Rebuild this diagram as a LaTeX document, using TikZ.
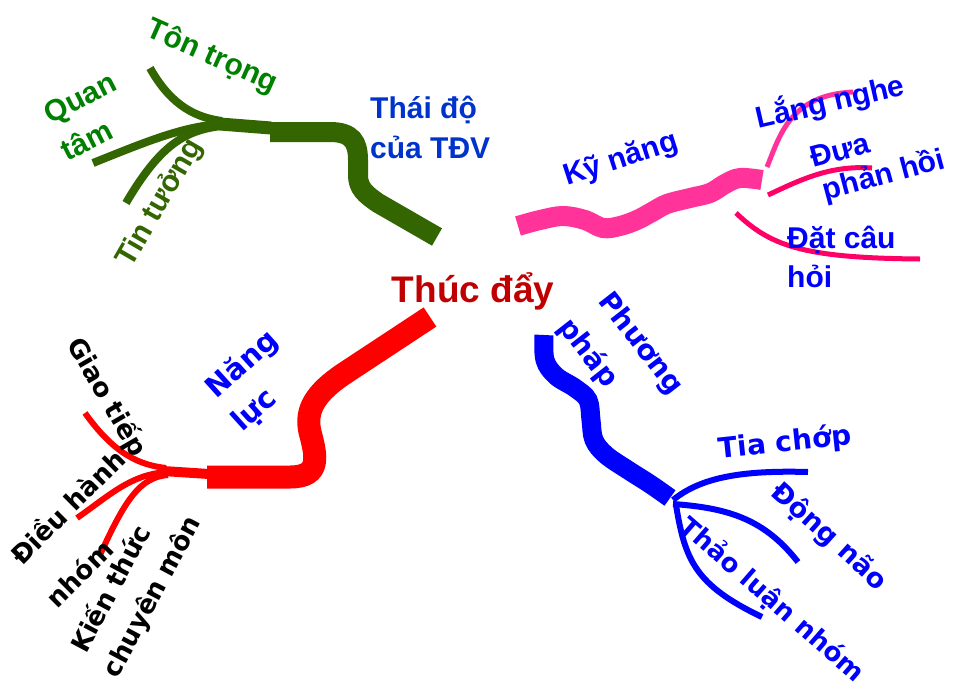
\documentclass[tikz,border=0pt]{standalone}
\usepackage{fontspec}
\setmainfont{Liberation Sans}
\newfontfamily\handfont{DejaVu Sans}
\definecolor{leafgreen}{HTML}{336600}
\definecolor{textgreen}{HTML}{008000}
\definecolor{deepblue}{HTML}{0033CC}
\definecolor{pureblue}{HTML}{0000FF}
\definecolor{hotpink}{HTML}{FF3399}
\definecolor{rosered}{HTML}{FF0066}
\definecolor{brightred}{HTML}{FF0000}
\definecolor{darkred}{HTML}{C00000}
\tikzset{
  boldlabel/.style={font=\fontsize{30}{36}\selectfont\bfseries, inner sep=0pt},
  handlabel/.style={font=\handfont\bfseries\fontsize{27}{32}\selectfont, inner sep=0pt},
  trunk/.style={line width=20pt, line cap=butt},
  twig/.style={line width=6pt, line cap=butt},
}
\begin{document}
\begin{tikzpicture}[x=1pt,y=-1pt]
\useasboundingbox (0,0) rectangle (955,686);

% ---------- centre ----------
\node[boldlabel, font=\fontsize{37}{44}\selectfont\bfseries, text=darkred, anchor=base] (centre) at (473,302) {Thúc đẩy};

% ---------- attitude branch (green) ----------
\coordinate (g-end) at (437,237);
\coordinate (g-mid) at (270,132);
\coordinate (g-fork) at (220,124);
\coordinate (g-ton) at (150,68);
\coordinate (g-quan) at (93,163);
\coordinate (g-tin) at (126,203);
\draw[leafgreen, trunk] (g-end) -- (378,203) .. controls (365,194) and (358,188) .. (358,175)
  -- (358,160) .. controls (358,142) and (352,132) .. (330,132) -- (g-mid);
\draw[leafgreen, line width=13pt] (271,128) -- (g-fork);
\draw[leafgreen, line width=8pt] (222,121) .. controls (190,117) and (168,100) .. (g-ton);
\draw[leafgreen, line width=8pt] (222,124) .. controls (185,126) and (150,140) .. (g-quan);
\draw[leafgreen, line width=8pt] (222,126) .. controls (185,130) and (160,145) .. (g-tin);

\node[boldlabel, text=deepblue, anchor=base west] (thai1) at (370,118) {Thái độ};
\node[boldlabel, text=deepblue, anchor=base west] (thai2) at (370,158) {của TĐV};
\node[boldlabel, text=textgreen, rotate=-24] (ton) at (212,57) {Tôn trọng};
\node[boldlabel, text=textgreen, rotate=27] (quan1) at (81,100) {Quan};
\node[boldlabel, text=textgreen, rotate=27] (quan2) at (86,140) {tâm};
\node[boldlabel, text=leafgreen, rotate=60] (tin) at (160,203) {Tin tưởng};

% ---------- skills branch (pink) ----------
\coordinate (p-start) at (518,226);
\coordinate (p-end) at (762,180);
\draw[hotpink, trunk] plot[smooth, tension=0.6] coordinates {(p-start) (540,220) (563,216) (585,220) (603,228) (620,226) (637,220) (652,212) (667,204) (690,198) (710,193) (725,184) (740,178) (p-end)};
\coordinate (p-lang) at (853,92);
\coordinate (p-dua) at (872,168);
\coordinate (p-dat) at (920,259);
\draw[hotpink, line width=5pt] (767,167) .. controls (780,135) and (790,95) .. (p-lang);
\draw[rosered, line width=5pt] (768,195) .. controls (800,180) and (830,165) .. (p-dua);
\draw[rosered, line width=5pt] (736,213) .. controls (770,245) and (800,258) .. (p-dat);

\node[boldlabel, text=pureblue, rotate=18] (kynang) at (621,160) {Kỹ năng};
\node[boldlabel, text=pureblue, rotate=13] (lang) at (830,102) {Lắng nghe};
\node[boldlabel, text=pureblue, rotate=15] (dua1) at (840,150) {Đưa};
\node[boldlabel, text=pureblue, rotate=15] (dua2) at (884,176) {phản hồi};
\node[boldlabel, text=pureblue, anchor=base west] (dat1) at (787,248) {Đặt câu};
\node[boldlabel, text=pureblue, anchor=base west] (dat2) at (787,287) {hỏi};

% ---------- competence branch (red) ----------
\coordinate (r-end) at (430,317);
\coordinate (r-mid) at (207,477);
\coordinate (r-fork) at (163,471);
\draw[brightred, trunk, line width=23pt] (r-end) -- (345,373) .. controls (315,393) and (305,410) .. (310,432)
  .. controls (316,455) and (322,477) .. (290,477) -- (r-mid);
\draw[brightred, line width=10pt] (209,474) -- (r-fork);
\coordinate (r-giao) at (85,413);
\coordinate (r-dieu) at (77,518);
\coordinate (r-kien) at (100,555);
\draw[brightred, twig] (166,468) .. controls (140,465) and (115,455) .. (r-giao);
\draw[brightred, twig] (166,472) .. controls (130,475) and (110,495) .. (r-dieu);
\draw[brightred, twig] (168,475) .. controls (140,477) and (125,500) .. (r-kien);

\node[handlabel, text=pureblue, rotate=42, font=\handfont\bfseries\fontsize{29}{34}\selectfont] (nang1) at (243,365) {Năng};
\node[handlabel, text=pureblue, rotate=42, font=\handfont\bfseries\fontsize{29}{34}\selectfont] (nang2) at (255,411) {lực};
\node[handlabel, rotate=-60, font=\handfont\bfseries\fontsize{26}{31}\selectfont] (giao) at (107,397) {Giao tiếp};
\node[handlabel, rotate=45, font=\handfont\bfseries\fontsize{26}{31}\selectfont] (dieu1) at (67,506) {Điều hành};
\node[handlabel, rotate=45, font=\handfont\bfseries\fontsize{26}{31}\selectfont] (dieu2) at (79,573) {nhóm};
\node[handlabel, rotate=62, font=\handfont\bfseries\fontsize{26}{31}\selectfont] (kien1) at (109,588) {Kiến thức};
\node[handlabel, rotate=62, font=\handfont\bfseries\fontsize{26}{31}\selectfont] (kien2) at (153,597) {chuyên môn};

% ---------- method branch (blue) ----------
\coordinate (b-start) at (544,335);
\coordinate (b-end) at (670,498);
\draw[pureblue, trunk, line width=19pt] plot[smooth, tension=0.6] coordinates {(b-start) (545,360) (556,376) (575,388) (588,400) (591,420) (594,440) (606,455) (628,470) (650,484) (b-end)};
\coordinate (b-tia) at (808,472);
\coordinate (b-dong) at (798,562);
\coordinate (b-thao) at (762,617);
\draw[pureblue, twig] (673,500) .. controls (700,478) and (740,470) .. (b-tia);
\draw[pureblue, twig] (673,504) .. controls (730,508) and (765,520) .. (b-dong);
\draw[pureblue, twig] (676,505) .. controls (685,560) and (695,585) .. (b-thao);

\node[handlabel, text=pureblue, rotate=-52, font=\handfont\bfseries\fontsize{28}{33}\selectfont] (phuong1) at (640,344) {Phương};
\node[handlabel, text=pureblue, rotate=-52, font=\handfont\bfseries\fontsize{28}{33}\selectfont] (phuong2) at (588,353) {pháp};
\node[handlabel, text=pureblue, rotate=6, font=\handfont\bfseries\fontsize{28}{33}\selectfont] (tia) at (785,443) {Tia chớp};
\node[handlabel, text=pureblue, rotate=-42] (dong) at (829,537) {Động não};
\node[handlabel, text=pureblue, rotate=-41, font=\handfont\bfseries\fontsize{26}{31}\selectfont] (thao) at (772,600) {Thảo luận nhóm};
\end{tikzpicture}
\end{document}
